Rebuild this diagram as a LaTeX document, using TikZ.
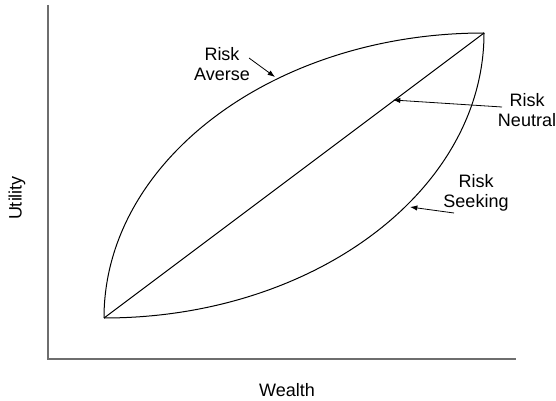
\documentclass[tikz,border=0pt]{standalone}
\usepackage{fontspec}
\setmainfont{Liberation Sans}
\usepackage{tikz}
\usetikzlibrary{arrows.meta,calc}
\definecolor{ink}     {HTML}{000000}
\definecolor{axisline}{HTML}{6E6E6E}
\tikzset{
  axisrule/.style={draw=axisline, line width=1.1pt},
  utilcurve/.style={draw=ink, line width=0.75pt},
  pointer/.style={
    -{Latex[length=5.5pt, width=4pt]}, line width=0.6pt, draw=ink
  },
  curvelabel/.style={font=\fontsize{13.5}{15.5}\selectfont, text=ink, align=center, inner sep=0pt}
}

\begin{document}
\begin{tikzpicture}[x=0.75pt, y=0.75pt]
    \useasboundingbox (0,0) rectangle (556,400);

    % axes
    \coordinate (o) at (48,41);
    \coordinate (ytop) at (48,395);
    \coordinate (xend) at (516,41);
    \draw[axisrule] (ytop) -- (o) -- (xend);
    \node[curvelabel, rotate=90] (ylab) at (17,202) {Utility};
    \node[curvelabel] (xlab) at (287,10) {Wealth};

    % end points of the three utility curves
    \coordinate (lo) at (104,82);
    \coordinate (hi) at (484,367);

    \draw[utilcurve] (lo) .. controls ($(lo)+(0,157.4)$) and ($(hi)+(-209.9,0)$) .. (hi);
    \draw[utilcurve] (lo) -- (hi);
    \draw[utilcurve] (lo) .. controls ($(lo)+(209.9,0)$) and ($(hi)+(0,-157.4)$) .. (hi);

    % labels
    \node[curvelabel] (averse) at (222,336) {Risk\\Averse};
    \node[curvelabel] (neutral) at (527,290) {Risk\\Neutral};
    \node[curvelabel] (seeking) at (476,207) {Risk\\Seeking};

    \coordinate (avfrom) at (249,342);
    \coordinate (avto) at (275,323);
    \coordinate (nefrom) at (502,293);
    \coordinate (neto) at (393,300);
    \coordinate (sefrom) at (454,187);
    \coordinate (seto) at (410,193);

    \draw[pointer] (avfrom) -- (avto);
    \draw[pointer] (nefrom) -- (neto);
    \draw[pointer] (sefrom) -- (seto);
  \end{tikzpicture}
\end{document}
